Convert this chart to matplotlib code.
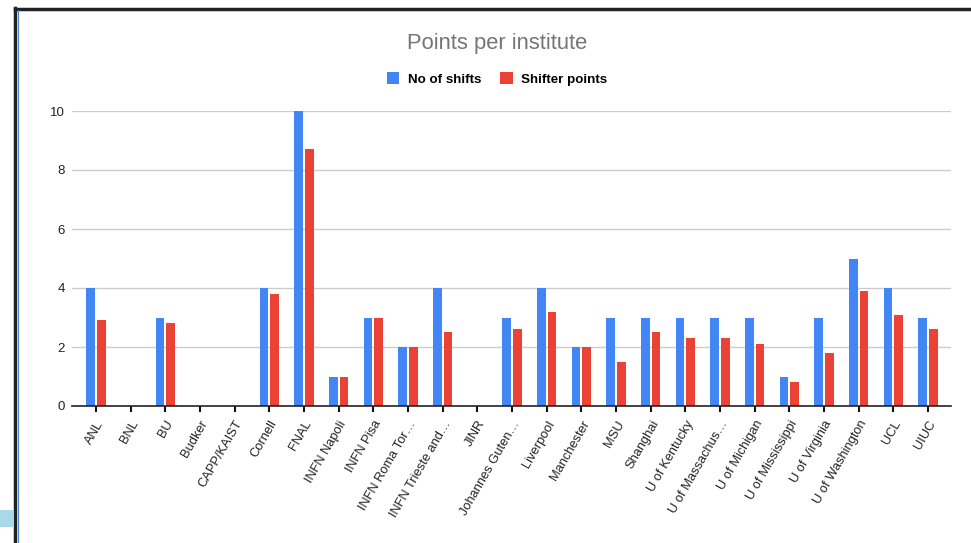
import numpy as np
import matplotlib.pyplot as plt
from matplotlib.lines import Line2D
from matplotlib.patches import Rectangle

# data
institutes = ['ANL', 'BNL', 'BU', 'Budker', 'CAPP/KAIST', 'Cornell', 'FNAL',
              'INFN Napoli', 'INFN Pisa', 'INFN Roma Tor…', 'INFN Trieste and…',
              'JINR', 'Johannes Guten…', 'Liverpool', 'Manchester', 'MSU',
              'Shanghai', 'U of Kentucky', 'U of Massachus…', 'U of Michigan',
              'U of Mississippi', 'U of Virginia', 'U of Washington', 'UCL', 'UIUC']
n_shifts = [4, 0, 3, 0, 0, 4, 10, 1, 3, 2, 4, 0, 3, 4, 2, 3, 3, 3, 3, 3, 1, 3, 5, 4, 3]
shifter_points = [2.9, 0, 2.8, 0, 0, 3.8, 8.7, 1, 3, 2, 2.5, 0, 2.6, 3.2, 2, 1.5,
                  2.5, 2.3, 2.3, 2.1, 0.8, 1.8, 3.9, 3.1, 2.6]
y_ticks = [0, 2, 4, 6, 8, 10]

blue = '#4285f4'
red = '#ea4335'

plt.rcParams['font.family'] = ['Liberation Sans', 'DejaVu Sans']

fig = plt.figure(figsize=(9.71, 5.43), dpi=100)
ax = fig.add_axes([72 / 971, 1 - 406 / 543, (951 - 72) / 971, (406 - 111) / 543])

x = np.arange(len(institutes))
w = 0.25
ax.bar(x - 0.155, n_shifts, width=w, color=blue, label='No of shifts', zorder=3)
ax.bar(x + 0.155, shifter_points, width=w, color=red, label='Shifter points', zorder=3)

ax.set_xlim(-0.69, len(institutes) - 1 + 0.66)
ax.set_ylim(0, 10)
ax.set_yticks(y_ticks)
ax.set_yticklabels([str(t) for t in y_ticks], fontsize=9.5, color='#222222')
ax.tick_params(axis='y', length=0, pad=5)
ax.grid(axis='y', color='#cccccc', linewidth=1, zorder=0)

ax.set_xticks(x)
ax.set_xticklabels(institutes, rotation=60, ha='right', rotation_mode='anchor',
                   fontsize=9.3, color='#222222')
ax.tick_params(axis='x', length=4, width=1.5, color='#111111', pad=5)

for side in ['top', 'right', 'left']:
    ax.spines[side].set_visible(False)
ax.spines['bottom'].set_color('#222222')
ax.spines['bottom'].set_linewidth(1.2)
ax.spines['bottom'].set_zorder(4)

fig.text(497 / 971, 1 - 44 / 543, 'Points per institute', ha='center', va='center',
         fontsize=15.8, color='#757575')

leg = fig.legend(loc='center', bbox_to_anchor=(497 / 971, 1 - 79 / 543), ncol=2,
                 frameon=False, handlelength=0.95, handleheight=0.95,
                 columnspacing=1.4, handletextpad=0.65,
                 prop={'size': 9.6, 'weight': 'bold'})

# screenshot frame
fig.add_artist(Line2D([15 / 971, 15 / 971], [0, 1 - 8 / 543], transform=fig.transFigure,
                      color='#222222', linewidth=2.5))
fig.add_artist(Line2D([15 / 971, 1], [1 - 9 / 543, 1 - 9 / 543], transform=fig.transFigure,
                      color='#222222', linewidth=2.5))
fig.add_artist(Line2D([17.5 / 971, 17.5 / 971], [0, 1 - 10 / 543], transform=fig.transFigure,
                      color='#4a86d8', linewidth=0.8))
fig.add_artist(Rectangle((0, 1 - 527 / 543), 13 / 971, 17 / 543, transform=fig.transFigure,
                         color='#a8d8ea', linewidth=0))

fig.savefig('out.png', dpi=100)
